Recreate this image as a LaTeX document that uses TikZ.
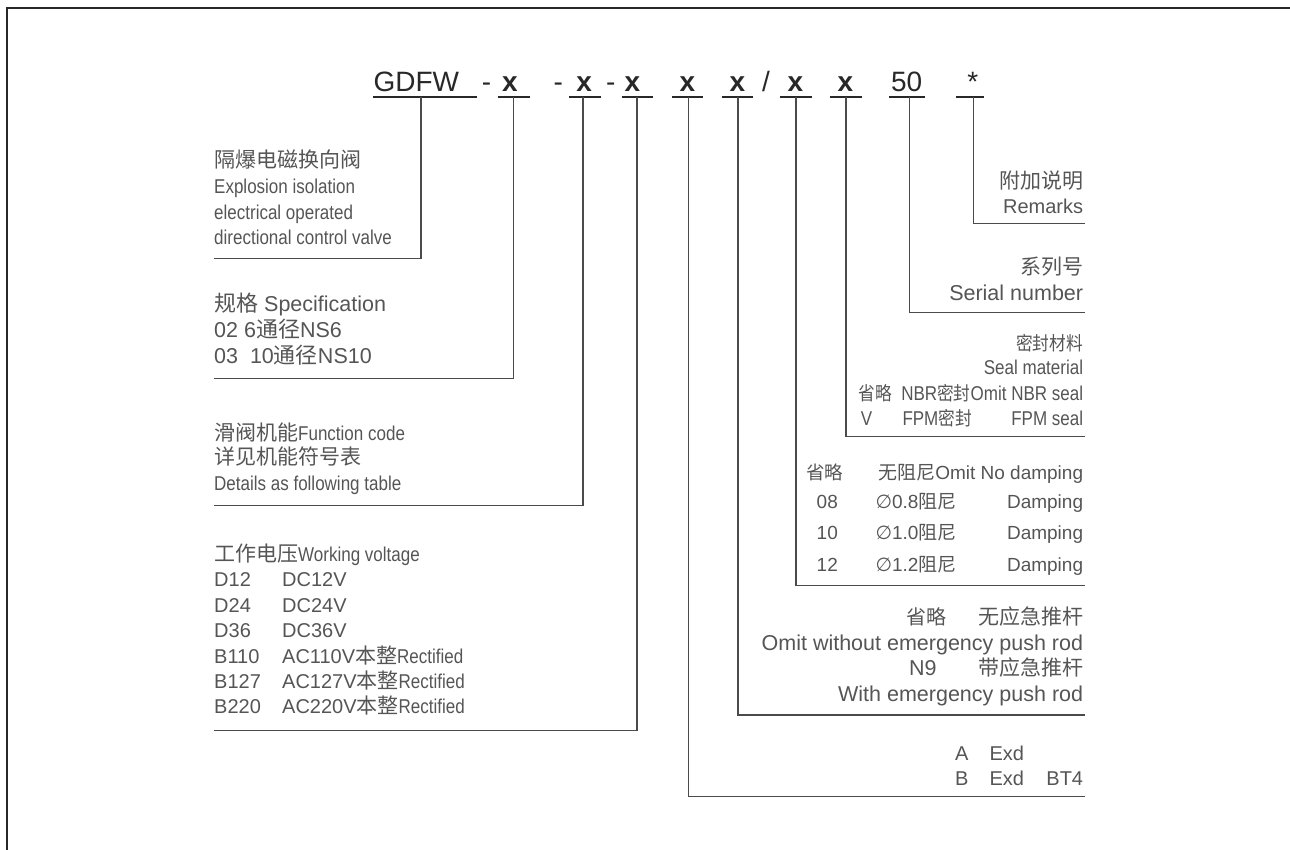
\documentclass[tikz,border=0pt]{standalone}
\usepackage{fontspec}
\setmainfont{Liberation Sans}
\newfontfamily\nar[FakeStretch=0.85]{Liberation Sans}
\newfontfamily\cjkr{Noto Sans CJK SC}
\newfontfamily\cjkn[FakeStretch=0.88]{Noto Sans CJK SC}
\newfontfamily\djv{DejaVu Sans}
\newcommand\zh[1]{{\fontsize{21}{24}\cjkr #1}}
\newcommand\zhz[2]{{\fontsize{#1}{24}\cjkr #2}}
\newcommand\zhn[1]{{\fontsize{19}{24}\cjkn #1}}
\newcommand\fsL{\fontsize{20}{24}\selectfont}
\newcommand\fsM{\fontsize{21.5}{26}\selectfont}
\newcommand\fsS{\fontsize{19}{24}\selectfont}
\newcommand\fsC{\fontsize{28}{32}\selectfont}
\definecolor{txt}{RGB}{85,85,85}
\definecolor{dk}{RGB}{40,40,40}
\definecolor{ln}{RGB}{75,75,75}
\tikzset{
  lbl/.style={inner sep=0pt, text=txt, font=\fsL},
  lw/.style={lbl, anchor=base west},
  le/.style={lbl, anchor=base east},
  nlw/.style={lw, font={\nar\fsL}},
  nle/.style={le, font={\nar\fsL}},
  mle/.style={le, font=\fsM},
  code/.style={inner sep=0pt, anchor=base, font=\fsC, text=dk},
  codex/.style={code, font={\fsC\bfseries}},
  conn/.style={draw=ln, line width=1.3pt},
  uline/.style={draw=dk, line width=2.4pt},
  frame/.style={draw=dk, line width=2pt}
}
\begin{document}
\begin{tikzpicture}[x=1pt,y=-1pt]
\useasboundingbox (0,0) rectangle (1290,850);
\draw[frame] (6.5,850) -- (6.5,8.5) -- (1290,8.5);

% ---- code line ----
\node[code, anchor=base west] (gdfw) at (373.3,91.7) {GDFW};
\node[code] (d1) at (486.5,91.7) {-};
\node[codex] (x1) at (510,91.7) {x};
\node[code] (d2) at (558.3,91.7) {-};
\node[codex] (x2) at (584.2,91.7) {x};
\node[code] (d3) at (610.7,91.7) {-};
\node[codex] (x3) at (632.5,91.7) {x};
\node[codex] (x4) at (687.5,91.7) {x};
\node[codex] (x5) at (737.5,91.7) {x};
\node[code] (sl) at (766,91.7) {/};
\node[codex] (x6) at (795.5,91.7) {x};
\node[codex] (x7) at (845.5,91.7) {x};
\node[code] (n50) at (906.7,91.7) {50};
\node[code] (st) at (972.7,91.7) {*};

\draw[uline] (373.3,97.3) -- (476.7,97.3);
\draw[uline] (498.3,97.3) -- (530,97.3);
\draw[uline] (569.3,97.3) -- (600.7,97.3);
\draw[uline] (622.3,97.3) -- (653.3,97.3);
\draw[uline] (672,97.3) -- (703.3,97.3);
\draw[uline] (721.7,97.3) -- (753.3,97.3);
\draw[uline] (780,97.3) -- (811.7,97.3);
\draw[uline] (830,97.3) -- (861.7,97.3);
\draw[uline] (889.3,97.3) -- (925,97.3);
\draw[uline] (956,97.3) -- (984,97.3);

% ---- tick tops and line ends ----
\coordinate (t1) at (421,97.3);   \coordinate (e1) at (214,258.3);
\coordinate (t2) at (513.3,97.3); \coordinate (e2) at (214,378.3);
\coordinate (t3) at (583,97.3);   \coordinate (e3) at (214,505.7);
\coordinate (t4) at (637,97.3);   \coordinate (e4) at (214,730.7);
\coordinate (t5) at (688.3,97.3); \coordinate (e5) at (1085,796.7);
\coordinate (t6) at (738,97.3);   \coordinate (e6) at (1085,715);
\coordinate (t7) at (796,97.3);   \coordinate (e7) at (1085,585.7);
\coordinate (t8) at (846,97.3);   \coordinate (e8) at (1085,436.7);
\coordinate (t9) at (909.3,97.3); \coordinate (e9) at (1085,312.3);
\coordinate (t10) at (973.3,97.3);\coordinate (e10) at (1085,223.3);
\foreach \i in {1,...,10} { \draw[conn] (t\i) |- (e\i); }

% ---- group 1 ----
\node[lw]  (g1a) at (214,168) {\zh{隔爆电磁换向阀}};
\node[nlw] (g1b) at (214,194) {Explosion isolation};
\node[nlw] (g1c) at (214,220) {electrical operated};
\node[nlw] (g1d) at (214,245) {directional control valve};

% ---- group 2 ----
\node[lw, font=\fsM] (g2a) at (214,312) {\zhz{22}{规格} Specification};
\node[lw, font=\fsM] (g2b) at (214,337) {02 6\zhz{22}{通径}NS6};
\node[lw, font=\fsM] (g2c) at (214,363) {03\ \ 10\zhz{22}{通径}NS10};

% ---- group 3 ----
\node[lw] (g3a) at (214,440) {\zh{滑阀机能}{\nar Function code}};
\node[lw] (g3b) at (214,464) {\zh{详见机能符号表}};
\node[nlw] (g3c) at (214,490) {Details as following table};

% ---- group 4 ----
\node[lw] (g4a) at (214,561) {\zh{工作电压}{\nar Working voltage}};
\node[lw] (v1a) at (214,586) {D12};  \node[lw] (v1b) at (282,586) {DC12V};
\node[lw] (v2a) at (214,612) {D24};  \node[lw] (v2b) at (282,612) {DC24V};
\node[lw] (v3a) at (214,637) {D36};  \node[lw] (v3b) at (282,637) {DC36V};
\node[lw] (v4a) at (214,663) {B110}; \node[lw] (v4b) at (282,663) {AC110V\zh{本整}{\nar Rectified}};
\node[lw] (v5a) at (214,688) {B127}; \node[lw] (v5b) at (282,688) {AC127V\zh{本整}{\nar Rectified}};
\node[lw] (v6a) at (214,713) {B220}; \node[lw] (v6b) at (282,713) {AC220V\zh{本整}{\nar Rectified}};

% ---- R1 ----
\node[le] (r1a) at (1083.3,189) {\zh{附加说明}};
\node[le] (r1b) at (1083.3,214) {Remarks};

% ---- R2 ----
\node[le] (r2a) at (1083.3,275) {\zh{系列号}};
\node[le, font=\fsM] (r2b) at (1083.3,301) {Serial number};

% ---- R3 ----
\node[le]  (r3a) at (1083.3,350) {\zhn{密封材料}};
\node[nle] (r3b) at (1083.3,374) {Seal material};
\node[lw]  (r3c) at (858.5,400) {\zhn{省略}};
\node[nle] (r3e) at (1083.3,400) {{\nar NBR}\zhn{密封}Omit NBR seal};
\node[lw]  (r3f) at (860.7,425) {{\nar V}};
\node[lw]  (r3g) at (902.3,425) {{\nar FPM}\zhn{密封}};
\node[nle] (r3h) at (1083.3,425) {FPM seal};

% ---- R4 ----
\node[lw] (r4a) at (806,479) {\zhz{18.5}{省略}};
\node[le, font=\fsS] (r4b) at (1083.3,479) {\zhz{19}{无阻尼}Omit No damping};
\node[lbl, anchor=base, font=\fsS] (r4c) at (827.3,508) {08};
\node[lw, font=\fsS] (r4d) at (875.3,508) {{\djv ∅}0.8\zhz{19}{阻尼}};
\node[le, font=\fsS] (r4e) at (1083.3,508) {Damping};
\node[lbl, anchor=base, font=\fsS] (r4f) at (827.3,539) {10};
\node[lw, font=\fsS] (r4g) at (875.3,539) {{\djv ∅}1.0\zhz{19}{阻尼}};
\node[le, font=\fsS] (r4h) at (1083.3,539) {Damping};
\node[lbl, anchor=base, font=\fsS] (r4i) at (827.3,571) {12};
\node[lw, font=\fsS] (r4j) at (875.3,571) {{\djv ∅}1.2\zhz{19}{阻尼}};
\node[le, font=\fsS] (r4k) at (1083.3,571) {Damping};

% ---- R5 ----
\node[lw]  (r5a) at (906,624) {\zhz{20}{省略}};
\node[le]  (r5b) at (1083.3,624) {\zh{无应急推杆}};
\node[mle] (r5c) at (1083.3,650) {Omit without emergency push rod};
\node[lw, font=\fsM] (r5d) at (909,675) {N9};
\node[le]  (r5e) at (1083.3,675) {\zh{带应急推杆}};
\node[mle] (r5f) at (1083.3,701) {With emergency push rod};

% ---- R6 ----
\node[lw] (r6a) at (955,760) {A};
\node[lw] (r6b) at (989.3,760) {Exd};
\node[lw] (r6c) at (955,785) {B};
\node[lw] (r6d) at (989.3,785) {Exd};
\node[le] (r6e) at (1083.3,785) {BT4};
\end{tikzpicture}
\end{document}
